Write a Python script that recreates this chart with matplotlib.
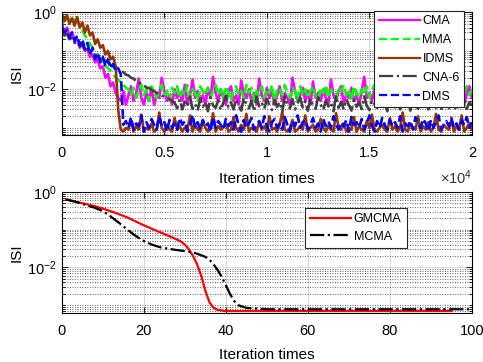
import numpy as np
import matplotlib
matplotlib.use("Agg")
import matplotlib.pyplot as plt
from matplotlib.ticker import FixedLocator, LogLocator, NullFormatter, FuncFormatter

plt.rcParams["font.family"] = ["Liberation Sans", "DejaVu Sans"]
plt.rcParams["mathtext.fontset"] = "custom"
plt.rcParams["mathtext.rm"] = "Liberation Sans"
plt.rcParams["mathtext.it"] = "Liberation Sans"

# top panel: ISI read every 125 iterations
iters = np.arange(0, 20001, 125)

cma = [0.5, 0.3, 0.4, 0.25, 0.3, 0.18, 0.2, 0.12, 0.15, 0.1, 0.11, 0.07, 0.08, 0.05, 0.06,
       0.035, 0.04, 0.02, 0.025, 0.012, 0.015, 0.008, 0.006,
       0.005, 0.009, 0.004, 0.007, 0.012, 0.005, 0.008, 0.019, 0.006, 0.004,
       0.008, 0.005, 0.011, 0.004, 0.007, 0.006, 0.02, 0.009, 0.005, 0.007,
       0.004, 0.01, 0.006, 0.008, 0.005, 0.013, 0.004, 0.007, 0.018, 0.006,
       0.009, 0.005, 0.007, 0.004, 0.011, 0.006, 0.021, 0.008, 0.005, 0.01,
       0.006, 0.004, 0.009, 0.012, 0.005, 0.007, 0.004, 0.017, 0.008, 0.006,
       0.01, 0.005, 0.008, 0.004, 0.019, 0.007, 0.005, 0.011, 0.006, 0.009,
       0.004, 0.007, 0.012, 0.005, 0.008, 0.006, 0.004, 0.02, 0.009, 0.005,
       0.007, 0.011, 0.005, 0.009, 0.004, 0.016, 0.006, 0.008, 0.005, 0.01,
       0.006, 0.004, 0.018, 0.007, 0.005, 0.009, 0.012, 0.004, 0.008, 0.006,
       0.011, 0.005, 0.007, 0.004, 0.009, 0.021, 0.006, 0.008, 0.005, 0.01,
       0.004, 0.008, 0.006, 0.013, 0.005, 0.007, 0.017, 0.004, 0.009, 0.006,
       0.008, 0.005, 0.01, 0.004, 0.007, 0.019, 0.006, 0.009, 0.005, 0.012,
       0.006, 0.004, 0.009, 0.007, 0.016, 0.005, 0.008, 0.004, 0.011, 0.006,
       0.007, 0.02, 0.005, 0.009, 0.004, 0.008, 0.012, 0.006]

mma = [0.5, 0.6, 0.65, 0.7, 0.7, 0.65, 0.6, 0.45, 0.35, 0.25, 0.2, 0.15, 0.12, 0.09,
       0.08, 0.06, 0.05, 0.04, 0.035, 0.03, 0.025, 0.02, 0.018, 0.015, 0.013, 0.011, 0.01,
       0.007, 0.011, 0.006, 0.009, 0.013, 0.007, 0.01, 0.005, 0.012, 0.008,
       0.006, 0.01, 0.013, 0.007, 0.009, 0.005, 0.011, 0.008, 0.012, 0.006,
       0.009, 0.007, 0.013, 0.006, 0.01, 0.008, 0.005, 0.012, 0.009, 0.007,
       0.011, 0.006, 0.009, 0.013, 0.007, 0.01, 0.006, 0.012, 0.008, 0.005,
       0.01, 0.012, 0.007, 0.009, 0.006, 0.013, 0.008, 0.011, 0.005, 0.009,
       0.007, 0.012, 0.006, 0.01, 0.008, 0.013, 0.005, 0.009, 0.011, 0.007,
       0.013, 0.008, 0.006, 0.011, 0.009, 0.005, 0.012, 0.007, 0.01, 0.006,
       0.009, 0.012, 0.007, 0.005, 0.011, 0.008, 0.013, 0.006, 0.01, 0.008,
       0.006, 0.011, 0.009, 0.013, 0.007, 0.01, 0.005, 0.012, 0.008, 0.006,
       0.01, 0.007, 0.012, 0.006, 0.009, 0.013, 0.008, 0.005, 0.011, 0.007,
       0.012, 0.006, 0.009, 0.011, 0.005, 0.008, 0.013, 0.007, 0.01, 0.006,
       0.008, 0.013, 0.006, 0.01, 0.007, 0.012, 0.009, 0.005, 0.011, 0.008,
       0.006, 0.01, 0.012, 0.007, 0.009, 0.005, 0.013, 0.008, 0.011, 0.006,
       0.009, 0.012, 0.007, 0.01]

idms = [0.9, 0.6, 0.85, 0.5, 0.7, 0.45, 0.75, 0.4, 0.55, 0.3, 0.45, 0.25, 0.3, 0.15,
        0.2, 0.12, 0.14, 0.08, 0.1, 0.06, 0.07, 0.04, 0.003, 0.0009,
        0.0008, 0.001, 0.0009, 0.0016, 0.0008, 0.0011, 0.0009, 0.0022, 0.0008, 0.001,
        0.0009, 0.0013, 0.0008, 0.0009, 0.0025, 0.001, 0.0008, 0.0012, 0.0009, 0.0008,
        0.0018, 0.0009, 0.0011, 0.0008, 0.001, 0.0009, 0.0021, 0.0008, 0.0012, 0.0009,
        0.0008, 0.0015, 0.001, 0.0008, 0.0009, 0.0024, 0.0008, 0.0011, 0.0009, 0.001,
        0.0013, 0.0008, 0.0009, 0.0019, 0.001, 0.0008, 0.0012, 0.0009, 0.0023, 0.0008,
        0.001, 0.0009, 0.0008, 0.0014, 0.0009, 0.0011, 0.0008, 0.002, 0.0009, 0.001,
        0.0008, 0.0012, 0.0026, 0.0009, 0.0008, 0.001, 0.0016, 0.0008, 0.0009, 0.0011,
        0.0009, 0.0021, 0.0008, 0.001, 0.0012, 0.0008, 0.0009, 0.0017, 0.001, 0.0008,
        0.0011, 0.0009, 0.0008, 0.0024, 0.001, 0.0009, 0.0013, 0.0008, 0.001, 0.0009,
        0.0019, 0.0008, 0.0011, 0.0009, 0.0008, 0.0015, 0.001, 0.0022, 0.0009, 0.0008,
        0.001, 0.0012, 0.0009, 0.0008, 0.0018, 0.0009, 0.0011, 0.0008, 0.001, 0.0025,
        0.0009, 0.0008, 0.0013, 0.001, 0.0009, 0.002, 0.0008, 0.0011, 0.0009, 0.0014,
        0.0008, 0.001, 0.0023, 0.0009, 0.0008, 0.0012, 0.001, 0.0009, 0.0016, 0.0008,
        0.0011, 0.0009, 0.0021, 0.0008, 0.001, 0.0013, 0.0009]

cna6 = [0.3, 0.25, 0.28, 0.2, 0.22, 0.16, 0.17, 0.13, 0.14, 0.11, 0.11, 0.09, 0.09, 0.075,
        0.075, 0.062, 0.06, 0.052, 0.05, 0.043, 0.041, 0.035, 0.034, 0.029, 0.028, 0.024,
        0.023, 0.02, 0.019, 0.016, 0.016, 0.013, 0.013, 0.011, 0.011, 0.0095, 0.009, 0.008,
        0.0078, 0.0068, 0.0066, 0.0058, 0.0056, 0.005,
        0.0045, 0.0032, 0.0055, 0.003, 0.0048, 0.0036, 0.0065, 0.0031, 0.0042, 0.0028,
        0.0058, 0.0035, 0.0047, 0.0027, 0.0062, 0.0038, 0.0033, 0.0052, 0.0029, 0.0044,
        0.0068, 0.0034, 0.0046, 0.003, 0.0056, 0.0037, 0.0028, 0.006, 0.0041, 0.0032,
        0.005, 0.0027, 0.0064, 0.0036, 0.0045, 0.0031, 0.0057, 0.0039, 0.0029, 0.0053,
        0.0035, 0.0047, 0.0026, 0.0066, 0.0038, 0.0032, 0.0055, 0.003, 0.0043, 0.0061,
        0.0034, 0.0049, 0.0028, 0.0058, 0.0037, 0.0031, 0.0063, 0.004, 0.0029, 0.0051,
        0.0036, 0.0045, 0.0027, 0.007, 0.0033, 0.0048, 0.003, 0.0056, 0.0039, 0.0028,
        0.0054, 0.0035, 0.0046, 0.0031, 0.0065, 0.0037, 0.0029, 0.0052, 0.0042, 0.0033,
        0.006, 0.0032, 0.0044, 0.0027, 0.0057, 0.0038, 0.0034, 0.0067, 0.003, 0.0047,
        0.0036, 0.0053, 0.0028, 0.0062, 0.004, 0.0031, 0.0049, 0.0035, 0.0059, 0.003,
        0.0043, 0.0065, 0.0033, 0.0048, 0.0029, 0.0055, 0.0037, 0.0032, 0.0061, 0.0039,
        0.0028, 0.005, 0.0035, 0.0064, 0.0031, 0.0046, 0.0038]

dms = [0.4, 0.3, 0.35, 0.22, 0.3, 0.18, 0.25, 0.14, 0.2, 0.11, 0.16, 0.08, 0.12, 0.06,
       0.09, 0.05, 0.07, 0.04, 0.06, 0.035, 0.045, 0.03, 0.035, 0.025, 0.0012,
       0.0015, 0.001, 0.0019, 0.0009, 0.0013, 0.0011, 0.0021, 0.0008, 0.0014, 0.001,
       0.0017, 0.0012, 0.0009, 0.002, 0.0011, 0.0014, 0.0008, 0.0016, 0.001, 0.0013,
       0.0009, 0.0018, 0.0012, 0.0015, 0.0008, 0.0011, 0.0022, 0.001, 0.0014, 0.0009,
       0.0016, 0.0011, 0.0013, 0.0008, 0.0019, 0.001, 0.0015, 0.0012, 0.0009, 0.0017,
       0.0011, 0.0014, 0.0009, 0.0021, 0.0012, 0.0008, 0.0016, 0.001, 0.0013, 0.0018,
       0.0009, 0.0012, 0.0015, 0.001, 0.002, 0.0011, 0.0008, 0.0014, 0.0017, 0.001,
       0.0013, 0.0009, 0.0019, 0.0012, 0.0008, 0.0015, 0.0011, 0.0021, 0.001, 0.0014,
       0.0016, 0.0009, 0.0012, 0.0018, 0.001, 0.0013, 0.0008, 0.0017, 0.0011, 0.0015,
       0.001, 0.002, 0.0012, 0.0009, 0.0014, 0.0011, 0.0016, 0.0008, 0.0019, 0.0012,
       0.0014, 0.001, 0.0017, 0.0009, 0.0013, 0.0021, 0.0011, 0.0008, 0.0015, 0.001,
       0.0018, 0.0012, 0.0009, 0.0016, 0.0011, 0.0014, 0.001, 0.002, 0.0008, 0.0013,
       0.0011, 0.0015, 0.0009, 0.0019, 0.0012, 0.001, 0.0017, 0.0013, 0.0008, 0.0016,
       0.001, 0.0014, 0.0021, 0.0009, 0.0012, 0.0015, 0.0011, 0.0018, 0.001, 0.0013,
       0.0009, 0.0016, 0.0012, 0.0019, 0.001, 0.0014]

# bottom panel
gm_x = [1, 3, 5, 8, 10, 13, 16, 20, 24, 27, 29, 30, 31, 32, 33, 34, 35, 36, 37, 38, 40, 45, 60, 80, 95]
gm_y = [0.63, 0.56, 0.5, 0.42, 0.36, 0.28, 0.21, 0.13, 0.085, 0.062, 0.049, 0.04, 0.03, 0.02,
        0.012, 0.006, 0.0024, 0.0012, 0.00085, 0.00075, 0.0007, 0.0007, 0.0007, 0.0007, 0.0007]
mc_x = [1, 3, 5, 8, 10, 12, 14, 16, 18, 20, 22, 24, 27, 30, 32, 34, 35, 36, 37, 38, 39, 40,
        41, 42, 43, 45, 50, 70, 100]
mc_y = [0.63, 0.56, 0.48, 0.38, 0.31, 0.22, 0.15, 0.1, 0.068, 0.05, 0.04, 0.034, 0.03, 0.027,
        0.025, 0.021, 0.019, 0.016, 0.012, 0.0085, 0.0056, 0.0034, 0.002, 0.0013, 0.001,
        0.00085, 0.00078, 0.00078, 0.00078]


def style_axes(ax, ylo):
    ax.set_yscale("log")
    ax.set_ylim(ylo, 1)
    ax.yaxis.set_major_locator(FixedLocator([1e-4, 1e-2, 1]))
    ax.yaxis.set_minor_locator(LogLocator(base=10, subs=np.arange(1, 10), numticks=20))
    ax.yaxis.set_minor_formatter(NullFormatter())
    ax.tick_params(which="both", direction="in", top=True, right=True, labelsize=10.5,
                   width=0.6)
    ax.tick_params(which="major", length=4, pad=8)
    ax.tick_params(axis="y", which="major", pad=4)
    ax.tick_params(which="minor", length=2)
    ax.set_axisbelow(True)
    ax.grid(True, which="major", color="#d9d9d9", lw=0.8, ls="-")
    ax.grid(True, which="minor", axis="y", color="#333333", lw=0.6, dashes=(1, 2))
    for s in ax.spines.values():
        s.set_linewidth(0.8)
    ax.set_ylabel("ISI", fontsize=11, labelpad=2)
    ax.set_xlabel("Iteration times", fontsize=11)


fig = plt.figure(figsize=(4.83, 3.62), dpi=100)
ax1 = fig.add_axes([0.128, 0.627, 0.849, 0.339])
ax2 = fig.add_axes([0.128, 0.136, 0.849, 0.334])

ax1.plot(iters, cma, color="#ff00ff", lw=1.9, label="CMA")
ax1.plot(iters, mma, color="#00ff00", lw=1.9, ls="--", label="MMA")
ax1.plot(iters, idms, color="#993300", lw=1.9, label="IDMS")
ax1.plot(iters, cna6, color="#404040", lw=1.9, ls="-.", label="CNA-6")
ax1.plot(iters, dms, color="#0000ff", lw=1.9, ls="--", label="DMS")
ax1.set_xlim(0, 20000)
ax1.set_xticks([0, 5000, 10000, 15000, 20000])
ax1.xaxis.set_major_formatter(FuncFormatter(lambda v, p: f"{v / 1e4:g}"))
style_axes(ax1, 6.5e-4)
ax1.xaxis.set_label_coords(0.5, -0.3)
fig.text(0.977, 0.508, r"$\times10^{4}$", ha="right", va="center", fontsize=10.5, color="#333333")
leg1 = ax1.legend(loc="upper right", bbox_to_anchor=(0.961, 0.970), bbox_transform=fig.transFigure,
                  fontsize=9, handlelength=3.3, handletextpad=0.2, labelspacing=0.55,
                  borderpad=0.35, borderaxespad=0, fancybox=False, framealpha=1,
                  edgecolor="#262626")
leg1.get_frame().set_linewidth(0.8)
for ln in leg1.get_lines():
    ln.set_linewidth(1.6)

ax2.plot(gm_x, gm_y, color="#ff0000", lw=1.6, label="GMCMA")
ax2.plot(mc_x, mc_y, color="black", lw=1.6, ls="-.", label="MCMA")
ax2.set_xlim(0, 100)
ax2.set_xticks([0, 20, 40, 60, 80, 100])
style_axes(ax2, 6.3e-4)
ax2.xaxis.set_label_coords(0.5, -0.29)
leg2 = ax2.legend(loc="upper left", bbox_to_anchor=(305 / 483, 1 - 208 / 362), bbox_transform=fig.transFigure,
                  fontsize=9, handlelength=3.3, handletextpad=0.2, labelspacing=0.45,
                  borderpad=0.4, borderaxespad=0, fancybox=False, framealpha=1,
                  edgecolor="#262626")
leg2.get_frame().set_linewidth(0.8)

fig.savefig("out.png", dpi=100)
